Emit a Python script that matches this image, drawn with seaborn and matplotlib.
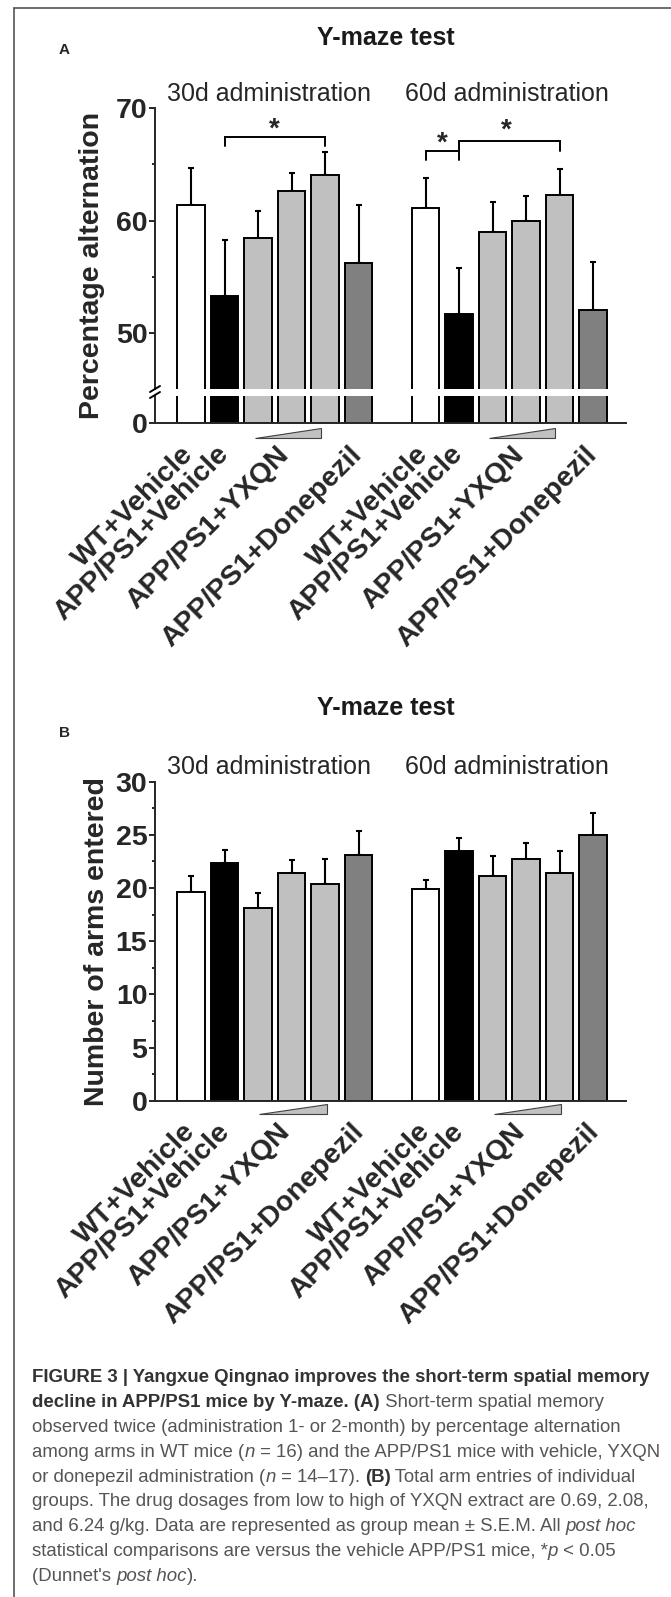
import matplotlib
matplotlib.use('Agg')
import matplotlib.pyplot as plt
import matplotlib.transforms as mtransforms
from matplotlib.lines import Line2D
from matplotlib.patches import Polygon
from matplotlib import font_manager
import numpy as np
import pandas as pd
import seaborn as sns

# ---- data ----
groups = ['30d administration', '60d administration']
treatments = ['WT+Vehicle', 'APP/PS1+Vehicle', 'APP/PS1+YXQN low',
              'APP/PS1+YXQN mid', 'APP/PS1+YXQN high', 'APP/PS1+Donepezil']
bar_colors = ['#ffffff', '#000000', '#c0c0c0', '#c0c0c0', '#c0c0c0', '#808080']
positions = [0, 1, 2, 3, 4, 5, 7, 8, 9, 10, 11, 12]

# (A) percentage alternation, mean and S.E.M.
alt_30d = [61.4, 53.25, 58.45, 62.6, 64.05, 56.25]
alt_30d_sem = [3.27, 4.98, 2.43, 1.63, 2.07, 5.12]
alt_60d = [61.1, 51.65, 59.0, 59.95, 62.3, 52.05]
alt_60d_sem = [2.67, 4.15, 2.63, 2.27, 2.29, 4.29]

# (B) number of arms entered, mean and S.E.M.
arms_30d = [19.6, 22.4, 18.1, 21.4, 20.4, 23.1]
arms_30d_sem = [1.54, 1.19, 1.47, 1.19, 2.31, 2.29]
arms_60d = [19.9, 23.45, 21.15, 22.7, 21.4, 25.0]
arms_60d_sem = [0.87, 1.25, 1.82, 1.5, 2.04, 2.04]

tick_pos = [0, 1, 3, 5, 7, 8, 10, 12]
tick_labels = ['WT+Vehicle', 'APP/PS1+Vehicle', 'APP/PS1+YXQN', 'APP/PS1+Donepezil'] * 2

# significance brackets in panel A: (x points, y points), star (x, y)
sig_lines = [([1, 1, 4, 4], [66.65, 67.48, 67.48, 66.65]),
             ([7, 7, 8], [65.4, 66.2, 66.2]),
             ([8, 8, 11, 11], [65.4, 67.1, 67.1, 66.2])]
sig_stars = [(2.5, 67.45), (7.5, 66.2), (9.4, 67.4)]

caption_lines = [
    [('FIGURE 3 | Yangxue Qingnao improves the short-term spatial memory', 'b')],
    [('decline in APP/PS1 mice by Y-maze. (A)', 'b'), (' Short-term spatial memory', 'r')],
    [('observed twice (administration 1- or 2-month) by percentage alternation', 'r')],
    [('among arms in WT mice (', 'r'), ('n', 'i'), (' = 16) and the APP/PS1 mice with vehicle, YXQN', 'r')],
    [('or donepezil administration (', 'r'), ('n', 'i'), (' = 14\u201317). ', 'r'), ('(B)', 'b'),
     (' Total arm entries of individual', 'r')],
    [('groups. The drug dosages from low to high of YXQN extract are 0.69, 2.08,', 'r')],
    [('and 6.24 g/kg. Data are represented as group mean \u00b1 S.E.M. All ', 'r'), ('post hoc', 'i')],
    [('statistical comparisons are versus the vehicle APP/PS1 mice, *', 'r'), ('p', 'i'), (' < 0.05', 'r')],
    [("(Dunnet's ", 'r'), ('post hoc', 'i'), (').', 'r')],
]


def make_frame(v30, s30, v60, s60):
    rows = []
    for g, vals, sems in [(groups[0], v30, s30), (groups[1], v60, s60)]:
        for t, v, s in zip(treatments, vals, sems):
            rows.append({'group': g, 'treatment': t, 'mean': v, 'sem': s})
    df = pd.DataFrame(rows)
    df['pos'] = positions
    return df


alt_df = make_frame(alt_30d, alt_30d_sem, alt_60d, alt_60d_sem)
arms_df = make_frame(arms_30d, arms_30d_sem, arms_60d, arms_60d_sem)

sns.set_style('ticks')
plt.rcParams['font.family'] = ['Liberation Sans', 'DejaVu Sans']

W, H = 671, 1597
fig = plt.figure(figsize=(W / 100, H / 100), dpi=100)


def fx(x):
    return x / W


def fy(y):
    return 1 - y / H


def rect(x0, x1, y0, y1):
    return [fx(x0), fy(y1), fx(x1) - fx(x0), fy(y0) - fy(y1)]


XLIM = (-1.075, 12.985)
LW = 1.4
palette = dict(zip(treatments, bar_colors))


def draw_bars(ax, df):
    sns.barplot(data=df, x='pos', y='mean', hue='treatment', palette=palette,
                native_scale=True, dodge=False, width=0.82, errorbar=None,
                edgecolor='black', linewidth=LW, legend=False, ax=ax, zorder=2)
    ax.errorbar(df['pos'], df['mean'], yerr=[np.zeros(len(df)), df['sem']],
                fmt='none', ecolor='black', elinewidth=1.5, capsize=2.5,
                capthick=1.5, zorder=1)
    ax.set_xlim(*XLIM)
    ax.set_xlabel('')
    ax.set_ylabel('')
    for s in ['top', 'right']:
        ax.spines[s].set_visible(False)
    for s in ['left', 'bottom']:
        ax.spines[s].set_linewidth(LW)
    ax.tick_params(axis='y', which='major', length=4, width=LW, pad=1.5,
                   labelsize=20.5)
    ax.tick_params(axis='y', which='minor', length=2.5, width=LW)


def bold_yticks(ax):
    for lab in ax.get_yticklabels():
        lab.set_fontweight('bold')


def set_xlabels(ax, offsets):
    ax.set_xticks(tick_pos)
    ax.set_xticklabels(tick_labels, rotation=45, ha='right',
                       fontsize=20.5, fontweight='bold')
    ax.tick_params(axis='x', length=0, pad=13)
    for lab, dx in zip(ax.get_xticklabels(), offsets * 2):
        lab.set_transform(lab.get_transform() +
                          mtransforms.ScaledTranslation(dx / 100, 0, fig.dpi_scale_trans))


def wedge(ax, x0, x1, yb, yt):
    tr = mtransforms.blended_transform_factory(ax.transData, fig.transFigure)
    for g0 in (0, 7):
        p = Polygon([(g0 + x0, fy(yb)), (g0 + x1, fy(yb)), (g0 + x1, fy(yt))],
                    closed=True, facecolor='#c0c0c0', edgecolor='#404040',
                    lw=0.8, transform=tr, clip_on=False)
        ax.add_patch(p)


# ---------------- panel A ----------------
ax_top = fig.add_axes(rect(155, 626, 108.3, 389))
ax_bot = fig.add_axes(rect(155, 626, 396, 423.3))
draw_bars(ax_top, alt_df)
draw_bars(ax_bot, alt_df)
ax_top.set_ylim(45, 70)
ax_top.set_yticks([50, 60, 70])
ax_top.set_yticks([55, 65], minor=True)
ax_top.spines['bottom'].set_visible(False)
ax_top.set_xticks([])
ax_bot.set_ylim(0, 5)
ax_bot.set_yticks([0])
bold_yticks(ax_top)
bold_yticks(ax_bot)
set_xlabels(ax_bot, [8, 9, 3, 9])
wedge(ax_bot, 1.9, 3.88, 438, 428)

for xs, ys in sig_lines:
    ax_top.plot(xs, ys, color='black', lw=LW, solid_joinstyle='miter', clip_on=False)
for sx, sy in sig_stars:
    ax_top.text(sx, sy, '*', ha='center', va='baseline', fontsize=20, fontweight='bold')

# axis break marks
for dy in (0, 6):
    fig.add_artist(Line2D([fx(150), fx(160)], [fy(392 + dy), fy(386 + dy)],
                          color='black', lw=LW))

# ---------------- panel B ----------------
ax_b = fig.add_axes(rect(155, 626, 781.7, 1100.7))
draw_bars(ax_b, arms_df)
ax_b.set_ylim(0, 30)
ax_b.set_yticks(range(0, 31, 5))
ax_b.set_yticks(np.arange(2.5, 30, 5), minor=True)
bold_yticks(ax_b)
set_xlabels(ax_b, [10, 10, 4, 11])
wedge(ax_b, 2.03, 4.05, 1114, 1104)

# ---------------- texts ----------------
for y_title, y_letter, letter, y_sub in [(38, 50, 'A', 94), (708, 733, 'B', 767)]:
    fig.text(fx(386), fy(y_title), 'Y-maze test', ha='center', va='center',
             fontsize=18, fontweight='bold', color='#1a1a1a')
    fig.text(fx(64), fy(y_letter), letter, ha='center', va='center', fontsize=11,
             fontweight='bold')
    fig.text(fx(269), fy(y_sub), groups[0], ha='center', va='center', fontsize=18)
    fig.text(fx(507), fy(y_sub), groups[1], ha='center', va='center', fontsize=18)

fig.text(fx(92), fy(265), 'Percentage alternation', rotation=90, ha='center',
         va='center', fontsize=20.5, fontweight='bold')
fig.text(fx(97), fy(942), 'Number of arms entered', rotation=90, ha='center',
         va='center', fontsize=20.5, fontweight='bold')

# frame of the figure box (open at right and bottom)
fig.add_artist(Line2D([fx(14), 1], [fy(8), fy(8)], color='#555555', lw=1.2))
fig.add_artist(Line2D([fx(14), fx(14)], [fy(8), 0], color='#555555', lw=1.2))


# ---------------- caption ----------------
def has_font(name):
    try:
        font_manager.findfont(font_manager.FontProperties(family=name),
                              fallback_to_default=False)
        return True
    except ValueError:
        return False


cap_family = ['Liberation Sans Narrow', 'DejaVu Sans'] if has_font('Liberation Sans Narrow') \
    else ['Liberation Sans', 'DejaVu Sans']
styles = {'b': dict(fontweight='bold', color='#333333'),
          'r': dict(color='#555555'),
          'i': dict(style='italic', color='#555555')}
renderer = fig.canvas.get_renderer()


def seg_width(text, kind, size):
    t1 = fig.text(0, 0, text + '|', fontsize=size, family=cap_family, **styles[kind])
    t2 = fig.text(0, 0, '|', fontsize=size, family=cap_family, **styles[kind])
    w = t1.get_window_extent(renderer).width - t2.get_window_extent(renderer).width
    t1.remove()
    t2.remove()
    return w


w0 = sum(seg_width(s, k, 12) for s, k in caption_lines[0])
cap_size = 12 * 618 / w0

for i, line in enumerate(caption_lines):
    x = 32
    y = 1378 + i * 24.8
    for s, k in line:
        fig.text(fx(x), fy(y), s, fontsize=cap_size, family=cap_family,
                 ha='left', va='center', **styles[k])
        x += seg_width(s, k, cap_size)

fig.savefig('out.png', dpi=100)
